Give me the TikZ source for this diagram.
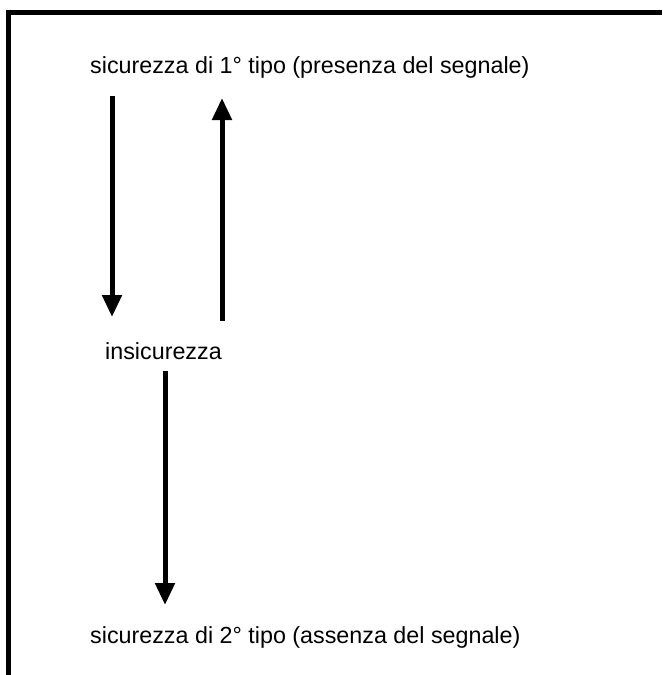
\documentclass[tikz,border=0pt]{standalone}
\usepackage{fontspec}
\setmainfont{Liberation Sans}
\usetikzlibrary{arrows.meta}
\tikzset{
  etichetta/.style={anchor=base west,inner sep=0pt,font=\fontsize{23.3}{27}\selectfont},
  freccia/.style={line width=5pt,-{Triangle[length=22pt,width=19pt]}}
}
\begin{document}
\begin{tikzpicture}[x=1pt,y=-1pt]
\useasboundingbox (0,0) rectangle (662,675);
\draw[line width=5pt] (8.5,675)--(8.5,12.5)--(662,12.5);
\node[etichetta] (primo) at (90,73.5) {sicurezza di 1° tipo (presenza del segnale)};
\node[etichetta] (insic) at (105,359) {insicurezza};
\node[etichetta] (secondo) at (90,643) {sicurezza di 2° tipo (assenza del segnale)};
\coordinate (a1) at (112,96);
\coordinate (b1) at (112,317);
\coordinate (a2) at (222,321);
\coordinate (b2) at (222,98);
\coordinate (a3) at (165,371);
\coordinate (b3) at (165,605);
\draw[freccia] (a1)--(b1);
\draw[freccia] (a2)--(b2);
\draw[freccia] (a3)--(b3);
\end{tikzpicture}
\end{document}
